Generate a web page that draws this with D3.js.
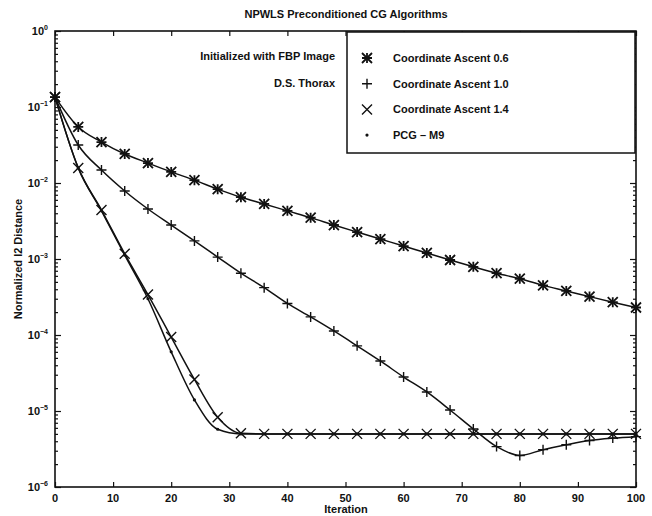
<!DOCTYPE html>
<html lang="en">
<head>
<meta charset="UTF-8">
<title>NPWLS Preconditioned CG Algorithms</title>
<script src="https://d3js.org/d3.v7.min.js"></script>
<style>
  body { margin: 0; background: #fff; }
  text { font-family: "Liberation Sans", Arial, sans-serif; font-weight: bold; fill: #111; }
</style>
</head>
<body>
<svg id="chart" width="652" height="516"></svg>
<script>
  // iterations where the markers sit
  var iterations = [0, 4, 8, 12, 16, 20, 24, 28, 32, 36, 40, 44, 48, 52, 56, 60, 64, 68, 72, 76, 80, 84, 88, 92, 96, 100];

  // normalized l2 distance
  var ascent06 = [0.135, 0.0546, 0.0346, 0.0241, 0.0183, 0.0140, 0.0109, 0.0083, 0.0065, 0.0053, 0.0043, 0.0035, 0.0028,
                  0.00226, 0.00183, 0.00148, 0.0012, 0.00097, 0.00079, 0.00065, 0.00055, 0.00045, 0.00038, 0.00032, 0.00027, 0.00023];
  var ascent10 = [0.135, 0.0316, 0.0148, 0.00785, 0.00455, 0.0028, 0.00173, 0.00106, 0.00065, 0.00042, 0.00026, 0.000173, 0.000113,
                  7.2e-5, 4.55e-5, 2.8e-5, 1.78e-5, 1.03e-5, 5.8e-6, 3.4e-6, 2.6e-6, 3.1e-6, 3.6e-6, 4.1e-6, 4.4e-6, 4.6e-6];
  var ascent14 = [0.135, 0.0158, 0.00441, 0.00117, 0.00034, 9.4e-5, 2.6e-5, 8.3e-6, 5.1e-6, 5.0e-6, 5.0e-6, 5.0e-6, 5.0e-6,
                  5.0e-6, 5.0e-6, 5.0e-6, 5.0e-6, 5.0e-6, 5.0e-6, 5.0e-6, 5.0e-6, 5.0e-6, 5.0e-6, 5.0e-6, 5.0e-6, 5.0e-6];
  var pcgM9    = [0.135, 0.0158, 0.0043, 0.00112, 0.0003, 6.0e-5, 1.4e-5, 5.75e-6, 5.0e-6, 5.0e-6, 5.0e-6, 5.0e-6, 5.0e-6,
                  5.0e-6, 5.0e-6, 5.0e-6, 5.0e-6, 5.0e-6, 5.0e-6, 5.0e-6, 5.0e-6, 5.0e-6, 5.0e-6, 5.0e-6, 5.0e-6, 5.0e-6];

  var xTicks = [0, 10, 20, 30, 40, 50, 60, 70, 80, 90, 100];
  var yExponents = [0, -1, -2, -3, -4, -5, -6];

  var series = [
    {name: "Coordinate Ascent 0.6", values: ascent06, marker: "star"},
    {name: "Coordinate Ascent 1.0", values: ascent10, marker: "plus"},
    {name: "Coordinate Ascent 1.4", values: ascent14, marker: "cross"},
    {name: "PCG \u2013 M9",          values: pcgM9,    marker: "dot"}
  ];

  var plotL = 55, plotR = 636, plotT = 31, plotB = 487;
  var svg = d3.select("#chart");

  var x = d3.scaleLinear().domain([0, 100]).range([plotL, plotR]);
  var y = d3.scaleLog().domain([1e-6, 1]).range([plotB, plotT]);

  // ticks, all pointing into the box
  var majorY = yExponents.map(e => Math.pow(10, e));
  var minorY = y.ticks().filter(v => majorY.every(m => Math.abs(m - v) / m > 1e-6));

  svg.append("g").attr("transform", "translate(0," + plotB + ")")
     .call(d3.axisBottom(x).tickValues(xTicks).tickSize(-5).tickFormat(""));
  svg.append("g").attr("transform", "translate(0," + plotT + ")")
     .call(d3.axisTop(x).tickValues(xTicks).tickSize(-5).tickFormat(""));
  svg.append("g").attr("transform", "translate(" + plotL + ",0)")
     .call(d3.axisLeft(y).tickValues(majorY).tickSize(-6).tickFormat(""));
  svg.append("g").attr("transform", "translate(" + plotL + ",0)")
     .call(d3.axisLeft(y).tickValues(minorY).tickSize(-3).tickFormat(""));
  svg.append("g").attr("transform", "translate(" + plotR + ",0)")
     .call(d3.axisRight(y).tickValues(majorY).tickSize(-6).tickFormat(""));
  svg.append("g").attr("transform", "translate(" + plotR + ",0)")
     .call(d3.axisRight(y).tickValues(minorY).tickSize(-3).tickFormat(""));
  svg.selectAll(".domain").remove();
  svg.selectAll(".tick line").attr("stroke", "#111").attr("stroke-width", 1.2);

  svg.append("rect")
     .attr("x", plotL).attr("y", plotT)
     .attr("width", plotR - plotL).attr("height", plotB - plotT)
     .attr("fill", "none").attr("stroke", "#111").attr("stroke-width", 1.6);

  // tick labels
  svg.selectAll(".xlab").data(xTicks).join("text")
     .attr("x", d => x(d)).attr("y", plotB + 15)
     .attr("text-anchor", "middle").attr("font-size", "11px")
     .text(d => d);

  var ylab = svg.selectAll(".ylab").data(yExponents).join("text")
     .attr("x", plotL - 7).attr("y", d => y(Math.pow(10, d)) + 4)
     .attr("text-anchor", "end").attr("font-size", "11px");
  ylab.append("tspan").text("10");
  ylab.append("tspan").attr("dy", -5).attr("font-size", "7px").text(d => d === 0 ? "0" : "\u2212" + (-d));

  // titles
  svg.append("text").attr("x", 346).attr("y", 18).attr("text-anchor", "middle")
     .attr("font-size", "11px").text("NPWLS Preconditioned CG Algorithms");
  svg.append("text").attr("x", 346).attr("y", 513).attr("text-anchor", "middle")
     .attr("font-size", "11px").text("Iteration");
  svg.append("text").attr("transform", "translate(22," + ((plotT + plotB) / 2) + ") rotate(-90)")
     .attr("text-anchor", "middle").attr("font-size", "11px").text("Normalized l2 Distance");

  svg.append("text").attr("x", 335).attr("y", 60).attr("text-anchor", "end")
     .attr("font-size", "11px").text("Initialized with FBP Image");
  svg.append("text").attr("x", 335).attr("y", 87).attr("text-anchor", "end")
     .attr("font-size", "11px").text("D.S. Thorax");

  // markers
  function drawMarker(g, type, r) {
    if (type === "plus" || type === "star") {
      g.append("path").attr("d", "M" + (-r) + ",0H" + r + "M0," + (-r) + "V" + r);
    }
    if (type === "cross" || type === "star") {
      g.append("path").attr("d", "M" + (-r) + "," + (-r) + "L" + r + "," + r + "M" + (-r) + "," + r + "L" + r + "," + (-r));
    }
    if (type === "dot") {
      g.append("circle").attr("r", 1.6).attr("fill", "#111");
    }
    g.selectAll("path").attr("stroke", "#111").attr("stroke-width", type === "star" ? 1.8 : 1.4).attr("fill", "none");
  }

  var line = d3.line()
     .x((d, i) => x(iterations[i]))
     .y(d => y(d))
     .curve(d3.curveMonotoneX);

  series.forEach(function (s) {
    svg.append("path")
       .attr("d", line(s.values))
       .attr("fill", "none").attr("stroke", "#111").attr("stroke-width", 1.5);
    s.values.forEach(function (v, i) {
      var g = svg.append("g").attr("transform", "translate(" + x(iterations[i]) + "," + y(v) + ")");
      drawMarker(g, s.marker, 5);
    });
  });

  // legend
  var lg = svg.append("g");
  lg.append("rect").attr("x", 347).attr("y", 32).attr("width", 288).attr("height", 121)
    .attr("fill", "#fff").attr("stroke", "#111").attr("stroke-width", 1.5);
  series.forEach(function (s, i) {
    var cy = 58 + i * 25.7;
    drawMarker(lg.append("g").attr("transform", "translate(367," + cy + ")"), s.marker, 5);
    lg.append("text").attr("x", 393).attr("y", cy + 4).attr("font-size", "11px").text(s.name);
  });
</script>
</body>
</html>
